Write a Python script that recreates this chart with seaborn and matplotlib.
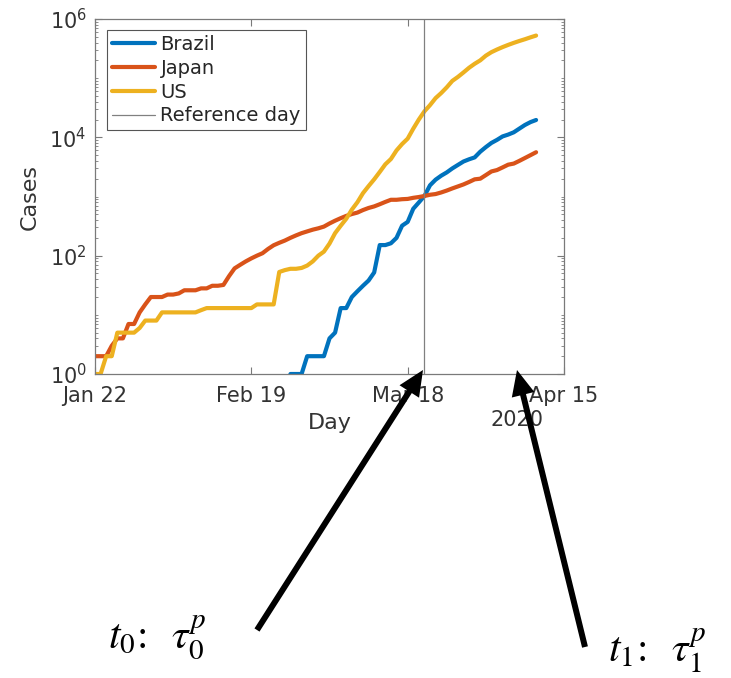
import numpy as np
import pandas as pd
import matplotlib
matplotlib.use("Agg")
import matplotlib.pyplot as plt
import matplotlib.ticker as mticker
from matplotlib.lines import Line2D
from matplotlib.patches import FancyArrowPatch
import seaborn as sns

# ================= Data (daily cumulative cases from Jan 22, 2020) =================
start_day = "2020-01-22"
reference_day = "2020-03-21"
countries = ["Brazil", "Japan", "US"]
colors = ["#0072BD", "#D95319", "#EDB120"]

nan = np.nan
brazil = [nan, nan, nan, nan, nan, nan, nan, nan, nan, nan,
          nan, nan, nan, nan, nan, nan, nan, nan, nan, nan,
          nan, nan, nan, nan, nan, nan, nan, nan, nan, nan,
          nan, nan, nan, nan, nan, 1, 1, 1, 2, 2,
          2, 2, 4, 5, 13, 13, 20, 25, 31, 38,
          52, 151, 151, 162, 200, 321, 372, 621, 793, 1021,
          1546, 1924, 2247, 2554, 2985, 3417, 3904, 4256, 4579, 5717,
          6836, 8044, 9056, 10360, 11130, 12161, 14034, 16170, 18092, 19638]
japan = [2, 2, 2, 3, 4, 4, 7, 7, 11, 15,
         20, 20, 20, 22, 22, 23, 26, 26, 26, 28,
         28, 31, 31, 32, 45, 61, 70, 80, 90, 100,
         110, 130, 150, 165, 180, 200, 220, 240, 257, 275,
         290, 310, 350, 390, 430, 470, 505, 535, 590, 640,
         680, 740, 810, 880, 880, 900, 910, 950, 980, 1020,
         1070, 1100, 1170, 1260, 1370, 1480, 1600, 1760, 1950, 2000,
         2300, 2650, 2800, 3100, 3450, 3600, 4000, 4470, 5000, 5600]
us = [1, 1, 2, 2, 5, 5, 5, 5, 6, 8,
      8, 8, 11, 11, 11, 11, 11, 11, 11, 12,
      13, 13, 13, 13, 13, 13, 13, 13, 13, 15,
      15, 15, 15, 53, 57, 60, 60, 62, 68, 80,
      100, 117, 160, 240, 320, 420, 600, 800, 1140, 1500,
      1950, 2600, 3500, 4300, 6000, 7700, 9500, 14000, 20000, 27500,
      35000, 46000, 56000, 70000, 90000, 105000, 125000, 150000, 175000, 200000,
      240000, 275000, 305000, 335000, 365000, 395000, 425000, 455000, 490000, 525000]

tick_days = ["2020-01-22", "2020-02-19", "2020-03-18", "2020-04-15"]
tick_labels = ["Jan 22", "Feb 19", "Mar 18", "Apr 15"]

labels_bottom = [r"$t_0$: $\;\,\tau_0^p$", r"$t_1$: $\;\,\tau_1^p$"]

# ================= Layout (figure pixels, origin top-left) =================
W, H = 731, 678
def fig_px(x, y):
    return (x / W, 1 - y / H)

arrows = [((257, 630), (423, 370)), ((585, 647), (517, 370))]
label_pos = [(108, 648), (608, 662)]

# ================= Plot =================
sns.set_theme(style="ticks")
plt.rcParams["font.family"] = ["DejaVu Sans"]
plt.rcParams["mathtext.fontset"] = "dejavusans"

dates = pd.date_range(start_day, periods=len(us))
df = pd.DataFrame({
    "Day": np.tile(dates, len(countries)),
    "Cases": np.concatenate([brazil, japan, us]),
    "Country": np.repeat(countries, len(dates)),
})

fig = plt.figure(figsize=(W / 100, H / 100), dpi=100)
ax = fig.add_axes([95 / W, 1 - 374 / H, 469 / W, 355 / H])
ax.set_yscale("log")

sns.lineplot(data=df, x="Day", y="Cases", hue="Country", hue_order=countries,
             palette=colors, lw=3, estimator=None, legend=False, ax=ax)
ref_color = "#808080"
ax.axvline(pd.Timestamp(reference_day), color=ref_color, lw=0.9)

ax.set_xlim(pd.Timestamp(tick_days[0]), pd.Timestamp(tick_days[-1]))
ax.set_ylim(1, 1e6)
ax.set_xticks(pd.to_datetime(tick_days))
ax.set_xticklabels(tick_labels)
ax.yaxis.set_major_locator(mticker.LogLocator(base=100, numticks=10))
ax.yaxis.set_major_formatter(mticker.LogFormatterSciNotation(base=10))
ax.yaxis.set_minor_locator(mticker.LogLocator(base=10, subs=np.arange(1, 10), numticks=20))
ax.yaxis.set_minor_formatter(mticker.NullFormatter())

txt_color = "#333333"
axis_color = "#7a7a7a"
ax.tick_params(which="both", direction="in", top=True, right=True,
               color=axis_color, labelcolor=txt_color, labelsize=15)
ax.tick_params(which="major", length=5, width=0.8, pad=6)
ax.tick_params(axis="x", which="major", pad=8.5)
ax.tick_params(which="minor", length=2.5, width=0.6)
ax.tick_params(axis="x", which="minor", bottom=False, top=False)
for spine in ax.spines.values():
    spine.set_color(axis_color)
    spine.set_linewidth(0.9)

ax.set_xlabel("Day", fontsize=16, color=txt_color)
ax.xaxis.set_label_coords(0.5, -0.11)
ax.set_ylabel("Cases", fontsize=16, color=txt_color)
ax.yaxis.set_label_coords(-0.118, 0.5)
ax.text(0.9, -0.13, "2020", transform=ax.transAxes, ha="center", va="center",
        fontsize=15, color=txt_color)

handles = [Line2D([], [], color=c, lw=3) for c in colors]
handles.append(Line2D([], [], color=ref_color, lw=0.9))
leg = ax.legend(handles, countries + ["Reference day"], loc="upper left",
                bbox_to_anchor=(12 / 469, 1 - 11 / 355), borderaxespad=0,
                fontsize=14, fancybox=False, framealpha=1, edgecolor="#555555",
                borderpad=0.25, labelspacing=0.25, handlelength=2.2,
                handletextpad=0.3, labelcolor="#262626")
leg.get_frame().set_linewidth(0.8)

# arrows and labels below the axes
for tail, tip in arrows:
    fig.add_artist(FancyArrowPatch(fig_px(*tail), fig_px(*tip), transform=fig.transFigure,
                                   arrowstyle="-|>,head_length=11,head_width=5",
                                   mutation_scale=1, lw=4.3, color="black",
                                   shrinkA=0, shrinkB=0, joinstyle="miter",
                                   capstyle="butt"))

for text, (x, y) in zip(labels_bottom, label_pos):
    fig.text(*fig_px(x, y), text, fontsize=30, family="STIXGeneral",
             math_fontfamily="stix", ha="left", va="baseline", color="black")

fig.savefig("out.png", dpi=100)
